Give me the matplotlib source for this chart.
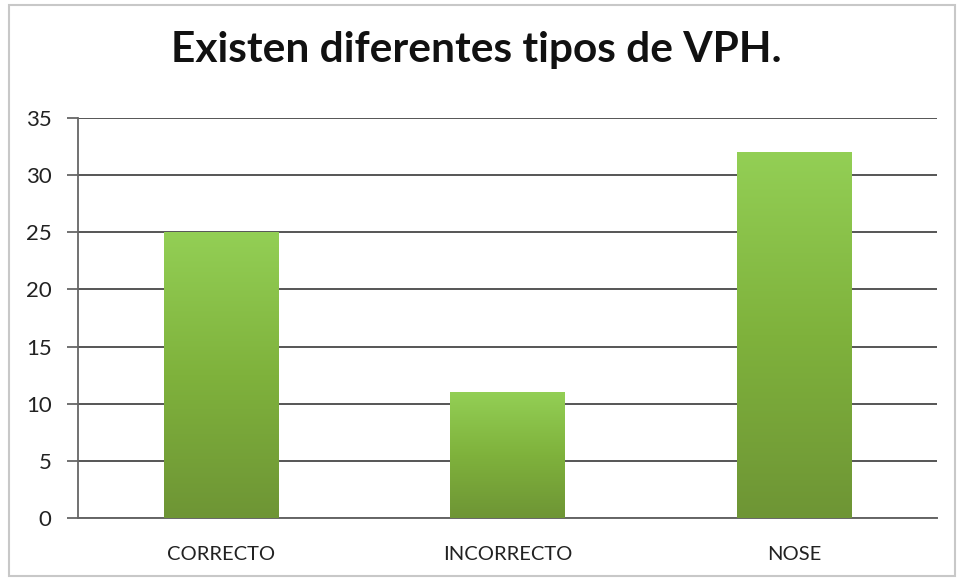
import numpy as np
import matplotlib
matplotlib.use("Agg")
import matplotlib.pyplot as plt
from matplotlib.patches import Rectangle
from matplotlib.colors import LinearSegmentedColormap

categories = ["CORRECTO", "INCORRECTO", "NOSE"]
values = [25, 11, 32]
title = "Existen diferentes tipos de VPH."

plt.rcParams['font.family'] = ['Lato', 'DejaVu Sans']

fig = plt.figure(figsize=(9.59, 5.8), dpi=100)
ax = fig.add_axes([78 / 959, 62 / 580, 859 / 959, 400 / 580])

# outer chart frame
fig.patches.append(Rectangle((9 / 959, 4 / 580), 946 / 959, 571 / 580, transform=fig.transFigure,
                             fill=False, edgecolor="#c8c8c8", linewidth=1.5))

x = np.arange(len(categories))
bars = ax.bar(x, values, width=0.4, color="none", edgecolor="none", zorder=3)

# vertical gradient fill for each bar, dark green at bottom, light green at top
cmap = LinearSegmentedColormap.from_list("grn", ["#6e9535", "#7fb23c", "#93cf55"])
grad = np.linspace(0, 1, 256).reshape(-1, 1)
for b in bars:
    bx, by = b.get_x(), b.get_y()
    ax.imshow(grad, cmap=cmap, origin="lower", aspect="auto", zorder=3,
              extent=[bx, bx + b.get_width(), by, by + b.get_height()])

ax.set_xlim(-0.5, len(categories) - 0.5)
ax.set_ylim(0, 35)
ax.set_yticks(np.arange(0, 36, 5))
ax.set_xticks(x)
ax.set_xticklabels(categories, fontsize=14.5, color="#222222")
ax.tick_params(axis="y", labelsize=16, length=8, width=1.3, color="#666666", pad=11, labelcolor="#222222")
ax.tick_params(axis="x", length=0, pad=20)

ax.yaxis.grid(True, color="#555555", linewidth=1.4, zorder=1)
ax.set_axisbelow(True)
for s in ["top", "right"]:
    ax.spines[s].set_visible(False)
ax.spines["left"].set_color("#666666")
ax.spines["left"].set_linewidth(1.3)
ax.spines["bottom"].set_color("#666666")
ax.spines["bottom"].set_linewidth(1.4)

fig.text(0.497, 1 - 50 / 580, title, ha="center", va="center", fontsize=30.5, fontweight="bold", color="#111111")

plt.savefig("out.png", dpi=100)
